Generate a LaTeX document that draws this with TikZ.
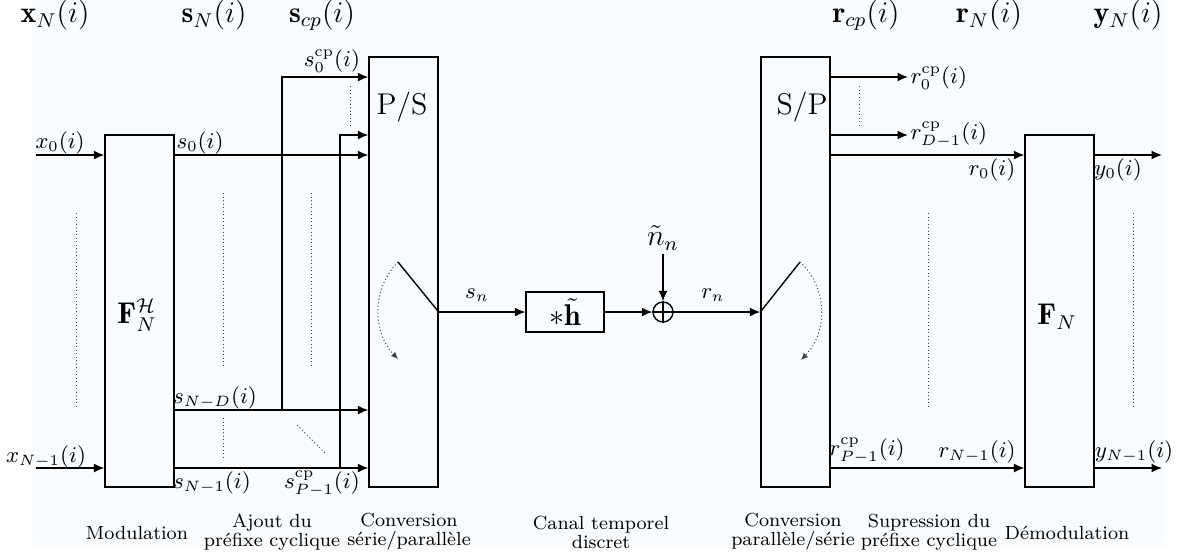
\documentclass[tikz,border=0pt]{standalone}
\usepackage{fontspec}
\usepackage{amsmath}
\usetikzlibrary{arrows.meta}
\definecolor{bgc}{RGB}{247,252,255}
\begin{document}
\begin{tikzpicture}[x=0.4pt,y=-0.4pt,
  arr/.style={-{Latex[length=4.2pt,width=3.6pt]}, line width=0.55pt},
  ln/.style={line width=0.55pt},
  box/.style={draw, line width=0.55pt, inner sep=0pt},
  dots/.style={densely dotted, line width=0.4pt, black!75},
  dotarr/.style={densely dotted, line width=0.4pt, black!75, -{Latex[length=2.8pt,width=2.4pt]}},
  lbl/.style={font=\fontsize{9}{10}\selectfont, inner sep=0pt},
  big/.style={font=\fontsize{12}{14}\selectfont, inner sep=0pt},
  capt/.style={font=\fontsize{7.6}{7.6}\selectfont, align=center, inner sep=0pt}]
\useasboundingbox (0,0) rectangle (1183,556);
\fill[bgc] (32,0) rectangle (1164,547);

% boxes
\node[box, minimum width=69*0.4pt, minimum height=352*0.4pt] (FH) at (139.5,311) {};
\node[box, minimum width=69*0.4pt, minimum height=430*0.4pt] (PS) at (403.5,272) {};
\node[box, minimum width=78*0.4pt, minimum height=40*0.4pt, big] (H) at (565,312) {$*\tilde{\mathbf{h}}$};
\node[draw, circle, line width=0.55pt, minimum size=20*0.4pt, inner sep=0pt] (P) at (663,312) {};
\draw[ln] (P.north) -- (P.south) (P.west) -- (P.east);
\node[box, minimum width=69*0.4pt, minimum height=430*0.4pt] (SP) at (795.5,272) {};
\node[box, minimum width=69*0.4pt, minimum height=352*0.4pt] (FN) at (1059.5,311) {};

% box texts
\node[big] (tFH) at (137,315) {$\mathbf{F}_N^{\mathcal{H}}$};
\node[big] (tPS) at (402,107) {P/S};
\node[big] (tSP) at (802,107) {S/P};
\node[big] (tFN) at (1057,317) {$\mathbf{F}_N$};
\node[big] (nn) at (663,238) {$\tilde{n}_n$};

% top labels
\node[big] (TxN) at (55,15) {$\mathbf{x}_N(i)$};
\node[big] (TsN) at (214,15) {$\mathbf{s}_N(i)$};
\node[big] (Tscp) at (322,15) {$\mathbf{s}_{cp}(i)$};
\node[big] (Trcp) at (866,15) {$\mathbf{r}_{cp}(i)$};
\node[big] (TrN) at (989,15) {$\mathbf{r}_N(i)$};
\node[big] (TyN) at (1128,15) {$\mathbf{y}_N(i)$};

% coordinates
\coordinate (yA) at (0,77);
\coordinate (yB) at (0,135);
\coordinate (yC) at (0,155);
\coordinate (yD) at (0,410);
\coordinate (yE) at (0,468);
\coordinate (yM) at (0,312);
\coordinate (x0s) at (36,155);
\coordinate (xNs) at (36,468);
\coordinate (c1) at (282,410);
\coordinate (c2) at (340,468);
\coordinate (swL) at (398,262);
\coordinate (swR) at (800,262);
\coordinate (r0e) at (908,77);
\coordinate (rDe) at (908,135);
\coordinate (y0e) at (1162,155);
\coordinate (yNe) at (1162,468);

% left connectors
\draw[arr] (x0s) -- (x0s -| FH.west);
\draw[arr] (xNs) -- (xNs -| FH.west);
\draw[arr] (FH.east |- yC) -- (PS.west |- yC);
\draw[arr] (FH.east |- yD) -- (PS.west |- yD);
\draw[arr] (FH.east |- yE) -- (PS.west |- yE);
\draw[arr] (c1) |- (PS.west |- yA);
\draw[arr] (c2) |- (PS.west |- yB);

% middle
\draw[ln] (swL) -- (PS.east |- yM);
\draw[arr] (PS.east |- yM) -- (H.west);
\draw[arr] (H.east) -- (P.west);
\draw[arr] (nn.south) ++(0,3) -- (P.north);
\draw[arr] (P.east) -- (SP.west |- yM);
\draw[ln] (SP.west |- yM) -- (swR);
\draw[dotarr] (swL) .. controls (372,288) and (372,332) .. (398,359);
\draw[dotarr] (swR) .. controls (828,288) and (828,332) .. (801,360);

% right connectors
\draw[arr] (SP.east |- yA) -- (r0e);
\draw[arr] (SP.east |- yB) -- (rDe);
\draw[arr] (SP.east |- yC) -- (FN.west |- yC);
\draw[arr] (SP.east |- yE) -- (FN.west |- yE);
\draw[arr] (FN.east |- yC) -- (y0e);
\draw[arr] (FN.east |- yE) -- (yNe);

% dotted ellipsis lines
\draw[dots] (76,213) -- (76,408);
\draw[dots] (223,193) -- (223,368);
\draw[dots] (311,193) -- (311,368);
\draw[dots] (350,86) -- (350,126);
\draw[dots] (223,418) -- (223,458);
\draw[dots] (297,425) -- (325,453);
\draw[dots] (859,86) -- (859,126);
\draw[dots] (928,213) -- (928,408);
\draw[dots] (1133,213) -- (1133,408);

% small labels
\node[lbl] (lx0) at (60,143) {$x_0(i)$};
\node[lbl] (lxN) at (46,457) {$x_{N-1}(i)$};
\node[lbl, anchor=west] (ls0) at (176,143) {$s_0(i)$};
\node[lbl] (lsND) at (215,398) {$s_{N-D}(i)$};
\node[lbl] (lsN1) at (212,483) {$s_{N-1}(i)$};
\node[lbl] (ls0cp) at (332,61) {$s_0^{\mathrm{cp}}(i)$};
\node[lbl] (lsPcp) at (322,484) {$s_{P-1}^{\mathrm{cp}}(i)$};
\node[lbl] (lsn) at (477,295) {$s_n$};
\node[lbl] (lrn) at (713,295) {$r_n$};
\node[lbl, anchor=west] (lr0cp) at (910,78) {$r_0^{\mathrm{cp}}(i)$};
\node[lbl, anchor=west] (lrDcp) at (910,135) {$r_{D-1}^{\mathrm{cp}}(i)$};
\node[lbl] (lr0) at (992,170) {$r_0(i)$};
\node[lbl] (ly0) at (1118,170) {$y_0(i)$};
\node[lbl] (lrPcp) at (867,451) {$r_{P-1}^{\mathrm{cp}}(i)$};
\node[lbl] (lrN1) at (977,452) {$r_{N-1}(i)$};
\node[lbl] (lyN1) at (1134,452) {$y_{N-1}(i)$};

% captions
\node[capt] (c_mod) at (137,533) {Modulation};
\node[capt] (c_ajout) at (272,532) {Ajout du\\préfixe cyclique};
\node[capt] (c_sp) at (409,532) {Conversion\\série/parallèle};
\node[capt] (c_canal) at (601,532) {Canal temporel\\discret};
\node[capt] (c_ps) at (793,532) {Conversion\\parallèle/série};
\node[capt] (c_supp) at (929,532) {Supression du\\préfixe cyclique};
\node[capt] (c_demod) at (1067,533) {Démodulation};
\end{tikzpicture}
\end{document}
